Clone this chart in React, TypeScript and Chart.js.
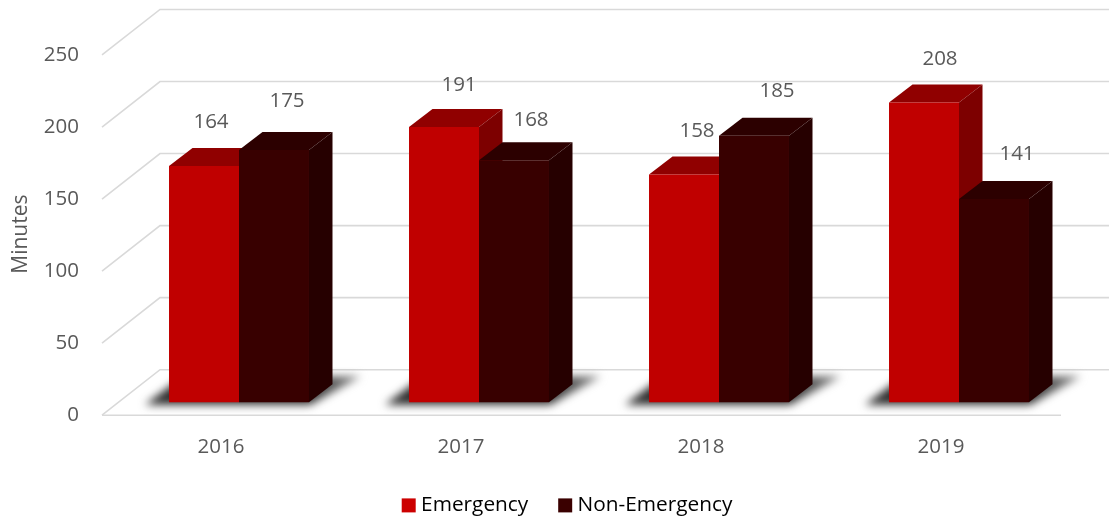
import React, { useEffect, useRef } from "react";
import { Chart, registerables } from "chart.js";

Chart.register(...registerables);

const years = ["2016", "2017", "2018", "2019"];
const emergency = [164, 191, 158, 208];
const nonEmergency = [175, 168, 185, 141];
const yTickStep = 50;

const FONT = '"Open Sans"';
const TEXT = "#595959";
const GRID = "#d9d9d9";
const DEPTH_X = 23.5;
const DEPTH_Y = 18;

const faces = [
  { front: "#c00000", top: "#900000", side: "#7d0000" },
  { front: "#380000", top: "#2c0000", side: "#260000" },
];

// hand-placed data label offsets, relative to each bar's top centre
const labelOffsets = [
  [[7, -44], [15, -42], [13, -43], [16, -43]],
  [[13, -49], [17, -40], [23, -45], [23, -45]],
];

const scene3d = {
  id: "scene3d",
  beforeDatasetsDraw(chart: any) {
    const { ctx, width } = chart;
    const front = chart.scales.yFront;
    const leftFront = 102;
    const wallX = 160;
    const wallDy = 45.5;
    ctx.save();
    ctx.strokeStyle = GRID;
    ctx.lineWidth = 1.6;
    front.ticks.forEach((t: any) => {
      const y = front.getPixelForValue(t.value);
      ctx.beginPath();
      ctx.moveTo(leftFront, y);
      ctx.lineTo(wallX, y - wallDy);
      ctx.lineTo(width, y - wallDy);
      ctx.stroke();
    });
    const y0 = front.getPixelForValue(0);
    ctx.beginPath();
    ctx.moveTo(leftFront, y0);
    ctx.lineTo(1061, y0);
    ctx.stroke();

    // soft floor shadows
    const a = chart.getDatasetMeta(0).data;
    const b = chart.getDatasetMeta(1).data;
    ctx.filter = "blur(4.5px)";
    a.forEach((bar: any, i: number) => {
      const l = bar.x - bar.width / 2;
      const r = b[i].x + b[i].width / 2;
      const base = bar.base;
      const g = ctx.createLinearGradient(r, base, r + 52, base - 26);
      g.addColorStop(0, "#2e2e2e");
      g.addColorStop(1, "#8a8a8a");
      ctx.fillStyle = g;
      ctx.beginPath();
      ctx.moveTo(l - 24, base + 2.5);
      ctx.lineTo(r + 1, base + 2.5);
      ctx.lineTo(r + 52, base - 26);
      ctx.lineTo(l + 14, base - 26);
      ctx.closePath();
      ctx.fill();
    });
    ctx.filter = "none";

    // top and side faces, left series first, all under the front faces
    chart.data.datasets.forEach((_: any, d: number) => {
      const f = faces[d];
      chart.getDatasetMeta(d).data.forEach((bar: any) => {
        const l = bar.x - bar.width / 2;
        const r = bar.x + bar.width / 2;
        ctx.fillStyle = f.top;
        ctx.beginPath();
        ctx.moveTo(l, bar.y);
        ctx.lineTo(l + DEPTH_X, bar.y - DEPTH_Y);
        ctx.lineTo(r + DEPTH_X, bar.y - DEPTH_Y);
        ctx.lineTo(r, bar.y);
        ctx.closePath();
        ctx.fill();
        ctx.fillStyle = f.side;
        ctx.beginPath();
        ctx.moveTo(r, bar.y);
        ctx.lineTo(r + DEPTH_X, bar.y - DEPTH_Y);
        ctx.lineTo(r + DEPTH_X, bar.base - DEPTH_Y);
        ctx.lineTo(r, bar.base);
        ctx.closePath();
        ctx.fill();
      });
    });
    ctx.restore();
  },
  afterDatasetsDraw(chart: any) {
    const { ctx } = chart;
    ctx.save();
    ctx.font = `20.5px ${FONT}`;
    ctx.fillStyle = TEXT;
    ctx.textAlign = "center";
    ctx.textBaseline = "middle";
    chart.data.datasets.forEach((ds: any, d: number) => {
      chart.getDatasetMeta(d).data.forEach((bar: any, i: number) => {
        const [dx, dy] = labelOffsets[d][i];
        ctx.fillText(String(ds.data[i]), bar.x + dx, bar.y + dy);
      });
    });
    ctx.restore();
  },
  afterLayout(chart: any) {
    const lg = chart.legend;
    if (lg) {
      lg.left += 30;
      lg.right += 30;
      lg.top = 460;
    }
  },
};

export default function App() {
  const ref = useRef<HTMLCanvasElement>(null);
  useEffect(() => {
    const chart = new Chart(ref.current as HTMLCanvasElement, {
      type: "bar",
      data: {
        labels: years,
        datasets: [
          {
            label: "Emergency",
            data: emergency,
            backgroundColor: faces[0].front,
            yAxisID: "y",
          },
          {
            label: "Non-Emergency",
            data: nonEmergency,
            backgroundColor: faces[1].front,
            yAxisID: "y",
          },
        ],
      },
      plugins: [scene3d],
      options: {
        responsive: false,
        animation: false,
        devicePixelRatio: 1,
        categoryPercentage: 0.5833,
        barPercentage: 1,
        layout: { padding: { top: 42, right: 30, left: 0, bottom: -14 } },
        plugins: {
          tooltip: { enabled: false },
          legend: {
            position: "bottom",
            labels: {
              font: { family: FONT, size: 20.8 },
              color: TEXT,
              padding: 35,
              boxWidth: 4,
              boxHeight: 4,
              generateLabels: (c: any) =>
                c.data.datasets.map((ds: any, i: number) => ({
                  text: ds.label,
                  fillStyle: ds.backgroundColor,
                  strokeStyle: i === 0 ? "#cc0000" : "#3a0000",
                  lineWidth: 10,
                  lineJoin: "miter",
                  datasetIndex: i,
                })),
            },
          },
        },
        scales: {
          x: {
            grid: { display: false },
            border: { display: false },
            ticks: {
              font: { family: FONT, size: 20.5 },
              color: TEXT,
              padding: 12,
              labelOffset: -18,
              maxRotation: 0,
            },
            afterFit: (s: any) => {
              s.height = 50;
            },
          },
          y: { display: false, min: -9, max: 250 },
          yFront: {
            position: "left",
            min: 0,
            max: 259,
            grid: { display: false, drawTicks: false },
            border: { display: false },
            ticks: {
              stepSize: yTickStep,
              includeBounds: false,
              font: { family: FONT, size: 20.5 },
              color: TEXT,
              padding: 40,
            },
            title: {
              display: true,
              text: "Minutes",
              font: { family: FONT, size: 21 },
              color: TEXT,
              padding: { top: 8, bottom: 0 },
            },
            afterFit: (s: any) => {
              s.width = 119;
              s.paddingTop = 0;
              s.paddingBottom = 0;
              if (!s.__shifted) {
                s.__shifted = true;
                const draw = s.drawTitle;
                s.drawTitle = function () {
                  s.ctx.save();
                  s.ctx.translate(0, 5.5);
                  draw.call(s);
                  s.ctx.restore();
                };
              }
            },
          },
        },
      } as any,
    });
    return () => chart.destroy();
  }, []);
  return (
    <div style={{ position: "absolute", left: 0, top: 0, width: 1109, height: 517, background: "#fff" }}>
      <canvas ref={ref} width={1109} height={517} style={{ display: "block" }} />
    </div>
  );
}
